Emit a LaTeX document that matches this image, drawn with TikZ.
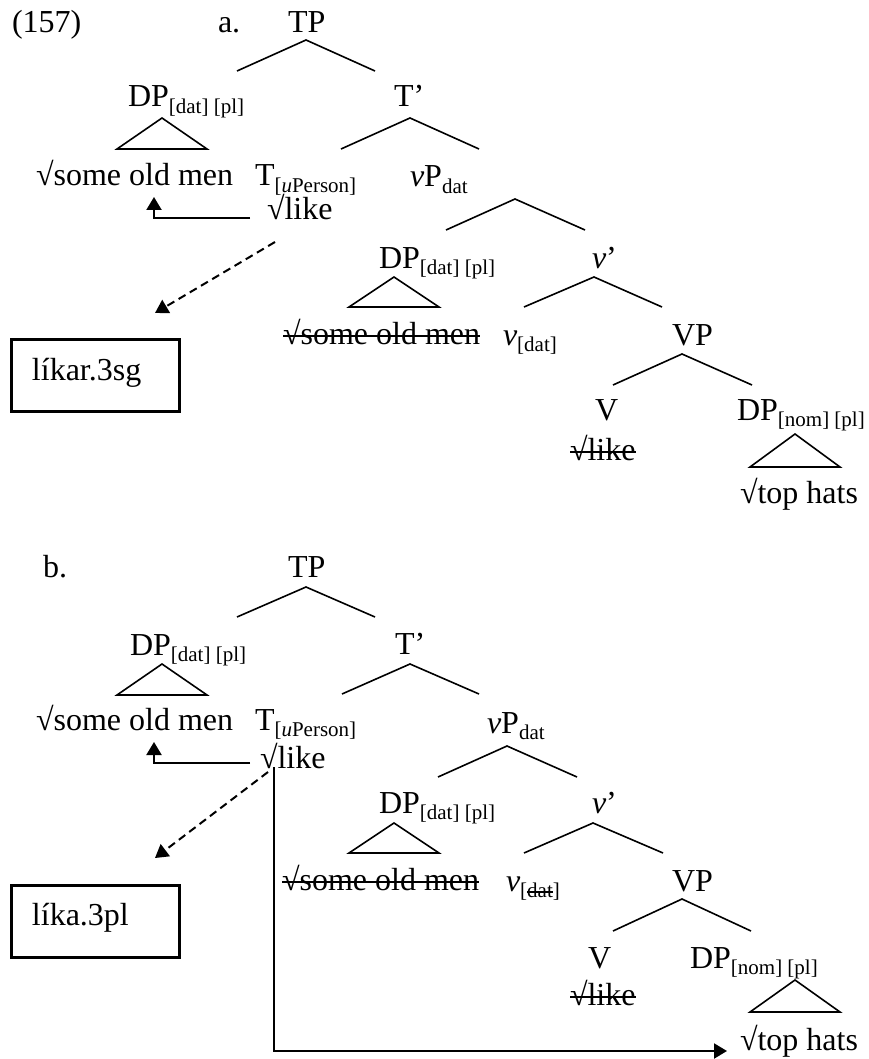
\documentclass[tikz,border=0pt]{standalone}
\usepackage{fontspec}
\setmainfont{Liberation Serif}
\usetikzlibrary{arrows.meta}
\newcommand\sbx[1]{\raisebox{-3.3pt}{\fontsize{10.5}{12}\selectfont #1}}
\newcommand\strk[2][3.6pt]{\setbox0\hbox{#2}\rlap{\rule[#1]{\wd0}{1pt}}\box0}
\tikzset{
  lbl/.style={anchor=base west, inner sep=0pt, outer sep=0pt, font=\fontsize{16}{19}\selectfont},
  br/.style={line width=0.8pt},
  tri/.style={line width=0.8pt},
  move/.style={line width=1.1pt, -{Triangle[length=6.5pt,width=7.5pt]}},
  spell/.style={line width=1pt, dash pattern=on 4pt off 2.5pt, -{Triangle[length=6.5pt,width=7.5pt]}},
  outbox/.style={draw, line width=1.3pt},
}
\begin{document}
\begin{tikzpicture}[x=0.5pt,y=-0.5pt]
\useasboundingbox (0,0) rectangle (868,1059);

% ================= tree a =================
\node[lbl] (n157) at (12,33) {(157)};
\node[lbl] (alab) at (218,33) {a.};
\node[lbl] (aTP) at (288,33) {TP};
\node[lbl] (aDP1) at (128,107) {DP\sbx{[dat] [pl]}};
\node[lbl] (aTb) at (394,107) {T’};
\node[lbl] (aSOM) at (36,186) {√some old men};
\node[lbl] (aT) at (255,186) {T\sbx{[\textit{u}Person]}};
\node[lbl] (avP) at (410,187) {\textit{v}P\sbx{dat}};
\node[lbl] (alike) at (267,220) {√like};
\node[lbl] (aDP2) at (379,268) {DP\sbx{[dat] [pl]}};
\node[lbl] (avb) at (592,268) {\textit{v}’};
\node[lbl] (aSOM2) at (283,344) {\strk{√some old men}};
\node[lbl] (av) at (503,345) {\textit{v}\sbx{[dat]}};
\node[lbl] (aVP) at (672,345) {VP};
\node[lbl] (aV) at (595,420) {V};
\node[lbl] (alike2) at (570,460) {\strk{√like}};
\node[lbl] (aDP3) at (737,420) {DP\sbx{[nom] [pl]}};
\node[lbl] (ahats) at (740,503) {√top hats};
\node[outbox, minimum width=84pt, minimum height=36pt, anchor=north west, inner sep=0pt] (abox) at (10,338) {};
\node[lbl] (aform) at (32,380) {líkar.3sg};

% branches a
\coordinate (aTPa) at (306,40); \coordinate (aTPl) at (237,71); \coordinate (aTPr) at (375,71);
\draw[br] (aTPl) -- (aTPa) -- (aTPr);
\coordinate (aTba) at (410,118); \coordinate (aTbl) at (341,149); \coordinate (aTbr) at (479,149);
\draw[br] (aTbl) -- (aTba) -- (aTbr);
\coordinate (avPa) at (515,199); \coordinate (avPl) at (446,230); \coordinate (avPr) at (585,230);
\draw[br] (avPl) -- (avPa) -- (avPr);
\coordinate (avba) at (594,277); \coordinate (avbl) at (524,307); \coordinate (avbr) at (662,307);
\draw[br] (avbl) -- (avba) -- (avbr);
\coordinate (aVPa) at (682,354); \coordinate (aVPl) at (613,385); \coordinate (aVPr) at (752,385);
\draw[br] (aVPl) -- (aVPa) -- (aVPr);
% triangles a
\coordinate (at1a) at (162,118); \coordinate (at1l) at (117,149); \coordinate (at1r) at (207,149);
\draw[tri] (at1a) -- (at1l) -- (at1r) -- cycle;
\coordinate (at2a) at (394,277); \coordinate (at2l) at (349,307); \coordinate (at2r) at (439,307);
\draw[tri] (at2a) -- (at2l) -- (at2r) -- cycle;
\coordinate (at3a) at (795,434); \coordinate (at3l) at (750,467); \coordinate (at3r) at (840,467);
\draw[tri] (at3a) -- (at3l) -- (at3r) -- cycle;
% arrows a
\coordinate (amvS) at (250,218); \coordinate (amvT) at (154,197);
\draw[move] (amvS) -| (amvT);
\coordinate (adS) at (275,242); \coordinate (adT) at (155,313);
\draw[spell] (adS) -- (adT);

% ================= tree b =================
\node[lbl] (blab) at (43,577) {b.};
\node[lbl] (bTP) at (288,577) {TP};
\node[lbl] (bDP1) at (130,655) {DP\sbx{[dat] [pl]}};
\node[lbl] (bTb) at (395,654) {T’};
\node[lbl] (bSOM) at (36,730) {√some old men};
\node[lbl] (bT) at (255,730) {T\sbx{[\textit{u}Person]}};
\node[lbl] (bvP) at (487,733) {\textit{v}P\sbx{dat}};
\node[lbl] (blike) at (260,768) {√like};
\node[lbl] (bDP2) at (379,813) {DP\sbx{[dat] [pl]}};
\node[lbl] (bvb) at (592,813) {\textit{v}’};
\node[lbl] (bSOM2) at (282,890) {\strk{√some old men}};
\node[lbl] (bv) at (506,891) {\textit{v}\sbx{[\strk[2.3pt]{dat}]}};
\node[lbl] (bVP) at (672,891) {VP};
\node[lbl] (bV) at (588,968) {V};
\node[lbl] (blike2) at (570,1005) {\strk{√like}};
\node[lbl] (bDP3) at (690,968) {DP\sbx{[nom] [pl]}};
\node[lbl] (bhats) at (740,1050) {√top hats};
\node[outbox, minimum width=84pt, minimum height=36pt, anchor=north west, inner sep=0pt] (bbox) at (10,884) {};
\node[lbl] (bform) at (32,925) {líka.3pl};

% branches b
\coordinate (bTPa) at (306,587); \coordinate (bTPl) at (237,617); \coordinate (bTPr) at (375,617);
\draw[br] (bTPl) -- (bTPa) -- (bTPr);
\coordinate (bTba) at (410,664); \coordinate (bTbl) at (342,694); \coordinate (bTbr) at (479,694);
\draw[br] (bTbl) -- (bTba) -- (bTbr);
\coordinate (bvPa) at (507,746); \coordinate (bvPl) at (438,777); \coordinate (bvPr) at (577,777);
\draw[br] (bvPl) -- (bvPa) -- (bvPr);
\coordinate (bvba) at (593,823); \coordinate (bvbl) at (524,853); \coordinate (bvbr) at (663,853);
\draw[br] (bvbl) -- (bvba) -- (bvbr);
\coordinate (bVPa) at (682,899); \coordinate (bVPl) at (613,931); \coordinate (bVPr) at (751,931);
\draw[br] (bVPl) -- (bVPa) -- (bVPr);
% triangles b
\coordinate (bt1a) at (162,664); \coordinate (bt1l) at (117,695); \coordinate (bt1r) at (207,695);
\draw[tri] (bt1a) -- (bt1l) -- (bt1r) -- cycle;
\coordinate (bt2a) at (394,823); \coordinate (bt2l) at (349,853); \coordinate (bt2r) at (439,853);
\draw[tri] (bt2a) -- (bt2l) -- (bt2r) -- cycle;
\coordinate (bt3a) at (795,980); \coordinate (bt3l) at (750,1012); \coordinate (bt3r) at (840,1012);
\draw[tri] (bt3a) -- (bt3l) -- (bt3r) -- cycle;
% arrows b
\coordinate (bmvS) at (250,763); \coordinate (bmvT) at (154,742);
\draw[move] (bmvS) -| (bmvT);
\coordinate (bvS) at (274,767); \coordinate (bvC) at (274,1051); \coordinate (bvT) at (727,1051);
\draw[move] (bvS) -- (bvC) -- (bvT);
\coordinate (bdS) at (268,772); \coordinate (bdT) at (155,858);
\draw[spell] (bdS) -- (bdT);
\end{tikzpicture}
\end{document}
